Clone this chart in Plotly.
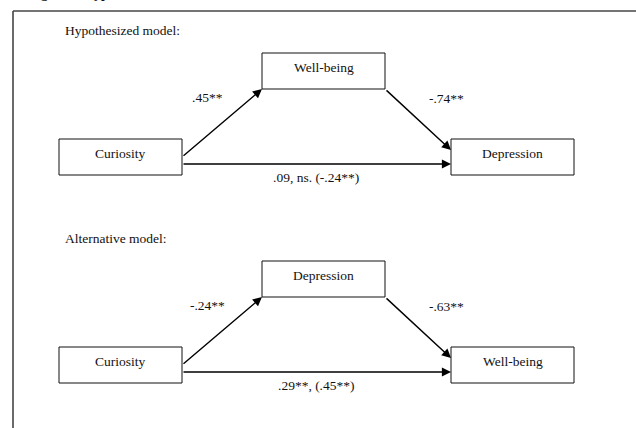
import plotly.graph_objects as go

# ---- data ----
model_titles = ["Hypothesized model:", "Alternative model:"]
predictor = ["Curiosity", "Curiosity"]
mediators = ["Well-being", "Depression"]
outcomes = ["Depression", "Well-being"]
path_a = [".45**", "-.24**"]
path_b = ["-.74**", "-.63**"]
path_c = [".09, ns. (-.24**)", ".29**, (.45**)"]
figure_caption = "Figure 1. Hypothesized and alternative models"

# ---- layout constants (pixel space) ----
W, H = 636, 428
FONT = "Liberation Serif, Times New Roman, serif"
FS = 13.5
BOX_W, BOX_H = 123, 36
LEFT_X, MID_X, RIGHT_X = 59, 262, 451
offsets = [0, 208]          # vertical offset of each model block
TITLE_Y, MID_TOP, SIDE_TOP = 30, 53, 139

fig = go.Figure()
shapes, annotations = [], []

def box(x0, y0, label):
    shapes.append(dict(type="rect", xref="x", yref="y", x0=x0, x1=x0 + BOX_W,
                       y0=y0, y1=y0 + BOX_H, line=dict(color="#111", width=1),
                       fillcolor="white", layer="above"))
    annotations.append(dict(x=x0 + BOX_W / 2, y=y0 + BOX_H / 2 - 4, xref="x", yref="y",
                            text=label, showarrow=False,
                            font=dict(family=FONT, size=FS, color="#111")))

def arrow(x0, y0, x1, y1):
    annotations.append(dict(x=x1, y=y1, ax=x0, ay=y0, xref="x", yref="y",
                            axref="x", ayref="y", text="", showarrow=True,
                            arrowhead=2, arrowsize=1.3, arrowwidth=1.4,
                            arrowcolor="#000", standoff=0, startstandoff=0))

def label(x, y, text):
    annotations.append(dict(x=x, y=y, xref="x", yref="y", text=text, showarrow=False,
                            font=dict(family=FONT, size=FS, color="#111")))

for i in range(2):
    dy = offsets[i]
    annotations.append(dict(x=63, y=TITLE_Y + dy, xref="x", yref="y", xanchor="left",
                            text=model_titles[i], showarrow=False,
                            font=dict(family=FONT, size=FS, color="#111")))
    side_top = SIDE_TOP + dy
    mid_top = MID_TOP + dy
    box(LEFT_X, side_top, predictor[i])
    box(MID_X, mid_top, mediators[i])
    box(RIGHT_X, side_top, outcomes[i])
    # a path
    arrow(LEFT_X + BOX_W, side_top + 18, MID_X, mid_top + BOX_H)
    # b path
    arrow(MID_X + BOX_W, mid_top + BOX_H, RIGHT_X, side_top + 11)
    # c path
    arrow(LEFT_X + BOX_W, side_top + 25, RIGHT_X, side_top + 25)
    label(207, 97 + dy, path_a[i])
    label(446, 98 + dy, path_b[i])
    label(316, 177 + dy, path_c[i])

# frame lines
shapes.append(dict(type="line", xref="x", yref="y", x0=13, x1=W + 5, y0=11, y1=11,
                   line=dict(color="#444", width=1.6)))
shapes.append(dict(type="line", xref="x", yref="y", x0=13, x1=13, y0=11, y1=H + 5,
                   line=dict(color="#444", width=1.6)))

# clipped caption at the very top
annotations.append(dict(x=27, y=0, xref="x", yref="y", xanchor="left", yanchor="bottom",
                        text="<b>" + figure_caption + "</b>", showarrow=False, yshift=-3,
                        font=dict(family=FONT, size=FS, color="#111")))

fig.update_layout(
    width=W, height=H, margin=dict(l=0, r=0, t=0, b=0),
    paper_bgcolor="white", plot_bgcolor="white",
    xaxis=dict(range=[0, W], visible=False, fixedrange=True),
    yaxis=dict(range=[H, 0], visible=False, fixedrange=True),
    shapes=shapes, annotations=annotations, showlegend=False,
)
fig.write_html("out.html", config={"displayModeBar": False},
               post_script="document.body.style.margin='0';document.body.style.overflow='hidden';")
